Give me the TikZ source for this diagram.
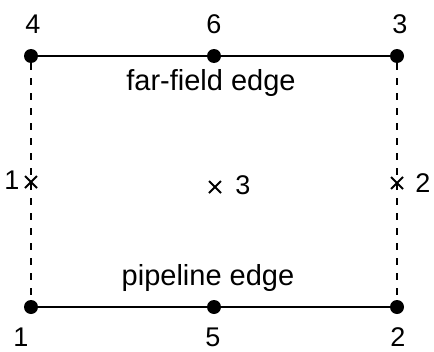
\documentclass[tikz,border=0pt]{standalone}
\usepackage{fontspec}
\setmainfont{Liberation Sans}
\usetikzlibrary{calc}
\begin{document}
\begin{tikzpicture}[x=1pt,y=-1pt,
  dot/.style={circle,fill=black,inner sep=0pt,minimum size=14pt},
  num/.style={font=\fontsize{27}{32}\selectfont,inner sep=0pt,anchor=base},
  lbl/.style={font=\fontsize{29}{34}\selectfont,inner sep=0pt,anchor=base},
  solidedge/.style={line width=2.2pt},
  dashedge/.style={line width=2pt,dash pattern=on 7pt off 8pt},
  crossmark/.style={line width=2pt}]
\useasboundingbox (0,0) rectangle (434,351);
\node[dot] (n4) at (31,56) {};
\node[dot] (n6) at (214,56) {};
\node[dot] (n3) at (397,56) {};
\node[dot] (n1) at (31,307) {};
\node[dot] (n5) at (214,307) {};
\node[dot] (n2) at (397,307) {};
\coordinate (c1) at (31,182);
\coordinate (c2) at (397,183);
\coordinate (c3) at (215,187);
\draw[solidedge] (n4) -- (n6) -- (n3);
\draw[solidedge] (n1) -- (n5) -- (n2);
\draw[dashedge] (n4) -- (n1);
\draw[dashedge] (n3) -- (n2);
\foreach \c in {c1,c2,c3}{
  \draw[crossmark] ($(\c)+(-6,-6)$) -- ($(\c)+(6,6)$);
  \draw[crossmark] ($(\c)+(-6,6)$) -- ($(\c)+(6,-6)$);
}
\node[num] (t4) at (33,33) {4};
\node[num] (t6) at (214,33) {6};
\node[num] (t3) at (400,33) {3};
\node[num] (t1) at (21,346) {1};
\node[num] (t5) at (213,346) {5};
\node[num] (t2) at (398,346) {2};
\node[lbl] (ff) at (211,90) {far-field edge};
\node[lbl] (pe) at (208,285) {pipeline edge};
\node[num] (x1) at (12,189) {1};
\node[num] (x2) at (423,192) {2};
\node[num] (x3) at (243,194) {3};
\end{tikzpicture}
\end{document}
